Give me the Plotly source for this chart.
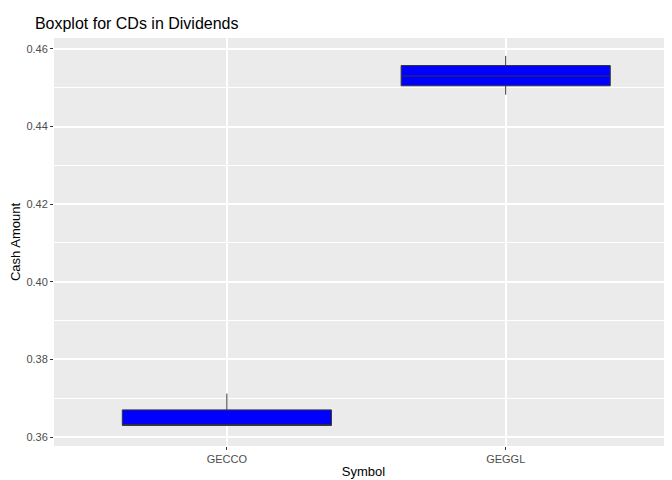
import plotly.graph_objects as go

symbols = ["GECCO", "GEGGL"]
q1 = [0.3630, 0.4505]
median = [0.3632, 0.4530]
q3 = [0.3670, 0.4557]
lower = [0.3630, 0.4482]
upper = [0.3712, 0.4582]

fig = go.Figure(go.Box(
    x=symbols, q1=q1, median=median, q3=q3,
    lowerfence=lower, upperfence=upper,
    fillcolor="blue", line=dict(color="#333333", width=1),
    whiskerwidth=0, boxpoints=False, showlegend=False,
))

fig.update_layout(
    width=672, height=480,
    margin=dict(l=46, r=7, t=30, b=42, autoexpand=False),
    plot_bgcolor="#ebebeb", paper_bgcolor="white",
    font=dict(family="Liberation Sans, Arial", size=13, color="black"),
    title=dict(text="Boxplot for CDs in Dividends", x=0.04, xanchor="left",
               y=0.968, yanchor="middle", font=dict(size=16)),
    boxgap=0.25, boxgroupgap=0,
)
fig.update_xaxes(title_text="Symbol", title_font=dict(size=13),
                 range=[-0.62, 1.6], showgrid=True,
                 gridcolor="white", gridwidth=1.5, ticks="outside",
                 ticklen=3, tickcolor="#333333", zeroline=False,
                 tickfont=dict(size=11, color="#4d4d4d"), title_standoff=2)
fig.update_yaxes(title_text="Cash Amount", title_font=dict(size=13),
                 range=[0.3577, 0.4628],
                 dtick=0.02, tickformat=".2f", showgrid=True,
                 gridcolor="white", gridwidth=1.5, ticks="outside",
                 ticklen=3, tickcolor="#333333", zeroline=False,
                 tickfont=dict(size=11, color="#4d4d4d"), title_standoff=2,
                 minor=dict(dtick=0.01, showgrid=True, gridcolor="white",
                            gridwidth=0.6))

fig.write_html("out.html")
